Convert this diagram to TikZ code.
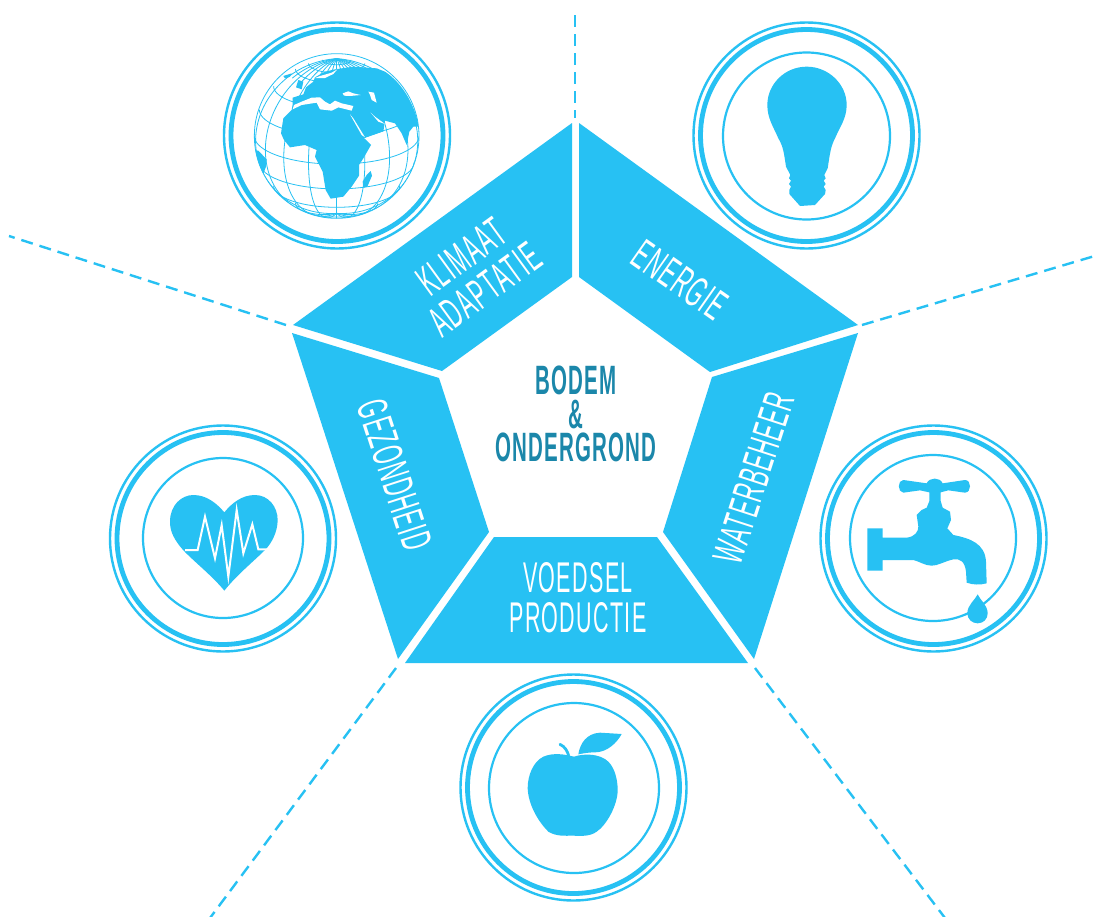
\documentclass[tikz,border=0pt]{standalone}
\usepackage{fontspec}
\setmainfont{Liberation Sans}
\newfontfamily\thinfont[FakeStretch=0.5,LetterSpace=3]{Liberation Sans}
\newfontfamily\midfont[FakeStretch=0.5,LetterSpace=3]{Liberation Sans Bold}
\definecolor{sky}{RGB}{39,193,243}
\definecolor{coreteal}{RGB}{27,135,170}
\tikzset{
  seg/.style={fill=sky,draw=none},
  seglabel/.style={text=white,align=center,font=\thinfont\fontsize{43}{40}\selectfont,inner sep=0pt},
  core/.style={text=coreteal,align=center,font=\midfont\fontsize{41}{40}\selectfont,inner sep=0pt},
  radial/.style={draw=sky,line width=2.4pt,dash pattern=on 12pt off 7pt},
  ringa/.style={draw=sky,line width=2.4pt},
  ringb/.style={draw=sky,line width=4.8pt},
  ringc/.style={draw=sky,line width=2.2pt},
  icon/.style={fill=sky,draw=none},
  gridline/.style={draw=sky,line width=0.8pt}
}
\newcommand{\rings}[2]{%
  \draw[ringa] (#1,#2) circle (113);
  \draw[ringb] (#1,#2) circle (106);
}
\begin{document}
\begin{tikzpicture}[x=1pt,y=-1pt]
\useasboundingbox (0,0) rectangle (1099,916);
\fill[white] (0,0) rectangle (1099,916);

% segments
\fill[seg] (572,123) -- (572,277) -- (442,371) -- (293,325) -- cycle;
\fill[seg] (579,123) -- (858,325) -- (710,372) -- (579,277) -- cycle;
\fill[seg] (858,333) -- (754,659) -- (663,532) -- (712,377) -- cycle;
\fill[seg] (494,537) -- (657,537) -- (748,663) -- (405,663) -- cycle;
\fill[seg] (292,333) -- (439,378) -- (489,532) -- (398,659) -- cycle;

% dashed radials
\coordinate (t1) at (575,15);    \coordinate (t2) at (575,118);
\coordinate (r1) at (1098,255);  \coordinate (r2) at (862,325);
\coordinate (br1) at (945,918);  \coordinate (br2) at (755,668);
\coordinate (bl1) at (210,918);  \coordinate (bl2) at (396,668);
\coordinate (l1) at (9,236);     \coordinate (l2) at (286,325);
\draw[radial] (t1) -- (t2);
\draw[radial] (r2) -- (r1);
\draw[radial] (br2) -- (br1);
\draw[radial] (bl2) -- (bl1);
\draw[radial] (l2) -- (l1);

% labels
\node[seglabel,rotate=36] (klimaat) at (473,273) {KLIMAAT\\ADAPTATIE};
\node[seglabel,rotate=-35] (energie) at (680,280) {ENERGIE};
\node[seglabel,rotate=72] (water) at (754,478) {WATERBEHEER};
\node[seglabel] (voedsel) at (578,598) {VOEDSEL\\PRODUCTIE};
\node[seglabel,rotate=-72] (gezond) at (395,475) {GEZONDHEID};
\node[core] (bodem) at (576,380) {BODEM};
\node[core] (amp) at (576,415) {\&};
\node[core] (onder) at (576,447) {ONDERGROND};

% rings
\rings{337}{135.5}
\rings{806.5}{135.5}
\draw[ringc] (806.5,136) circle (83.5);
\rings{933.5}{538.5}
\draw[ringc] (933,538) circle (83);
\rings{223}{538.5}
\draw[ringc] (223,538) circle (80);
\rings{573.5}{787.5}
\draw[ringc] (574,788) circle (85);

% globe
\begin{scope}[shift={(210,10)},scale=1/3]
  \begin{scope}
    \clip (380,378) circle (247);
    \foreach \lat in {-60,-40,-20,0,20,40,60,70,80}{
      \draw[gridline] plot[domain=-90:90,samples=40,variable=\l,smooth]
        ({380+247*cos(\lat)*sin(\l)},{378-247*(cos(20)*sin(\lat)-sin(20)*cos(\lat)*cos(\l))});
    }
    \foreach \lon in {-80,-60,-40,-20,0,20,40,60,80}{
      \draw[gridline] plot[domain=-90:90,samples=40,variable=\p,smooth]
        ({380+247*cos(\p)*sin(\lon)},{378-247*(cos(20)*sin(\p)-sin(20)*cos(\p)*cos(\lon))});
    }
    \foreach \lon in {-70,-50,-30,-10,10,30,50,70}{
      \draw[gridline] plot[domain=55:90,samples=10,variable=\p,smooth]
        ({380+247*cos(\p)*sin(\lon)},{378-247*(cos(20)*sin(\p)-sin(20)*cos(\p)*cos(\lon))});
    }
    % south america
    \fill[icon] (130,420) -- (145,422) -- (170,448) -- (168,470) -- (158,497) -- (130,480) -- cycle;
    % africa + eurasia
    \fill[icon] (213,370) -- (220,325) -- (245,300) -- (248,283) -- (248,263) -- (280,253)
      -- (288,232) -- (310,215) -- (315,202) -- (345,185) -- (375,178) -- (430,170) -- (500,175)
      -- (525,185) .. controls (570,215) and (610,270) .. (627,350)
      -- (610,350) -- (598,365) -- (590,405) -- (575,370) -- (555,340) -- (525,332)
      -- (520,365) -- (463,385) -- (483,405) -- (460,445) -- (447,465)
      -- (447,497) -- (425,530) -- (400,560) -- (362,566) -- (347,540) -- (338,485)
      -- (315,440) -- (320,420) -- (285,405) -- (240,412) -- (222,390) -- cycle;
    % madagascar
    \fill[icon] (482,483) -- (486,497) -- (472,530) -- (460,533) -- (458,515) -- (470,495) -- cycle;
    % britain, iceland
    \fill[icon] (265,210) -- (280,215) -- (275,238) -- (258,232) -- cycle;
    \fill[icon] (220,198) -- (245,190) -- (240,200) -- (225,205) -- cycle;
    % seas, drawn in crop coordinates
    \begin{scope}[shift={(180,120)}]
      \fill[white] (72,165) -- (95,155) -- (125,143) -- (150,142) -- (165,155) -- (180,163)
        -- (195,152) -- (215,160) -- (250,168) -- (245,182) -- (205,172) -- (185,182) -- (150,178)
        -- (140,158) -- (95,165) -- (68,178) -- cycle;
      \fill[white] (218,130) -- (235,124) -- (250,130) -- (272,135) -- (240,138) -- (222,137) -- cycle;
      \fill[white] (295,125) -- (312,128) -- (320,158) -- (305,150) -- (300,135) -- cycle;
      \fill[white] (135,84) -- (165,84) -- (190,72) -- (202,58) -- (185,68) -- (150,78) -- cycle;
      \fill[white] (240,193) -- (250,205) -- (285,262) -- (275,255) -- cycle;
      \fill[white] (302,188) -- (315,200) -- (345,222) -- (325,215) -- cycle;
      \fill[white] (283,265) -- (340,245) -- (342,250) -- (290,268) -- cycle;
    \end{scope}
  \end{scope}
  \draw[gridline] (380,378) circle (247);
\end{scope}

% lightbulb
\begin{scope}[shift={(680,10)},scale=1/3]
  \fill[icon] (380,170) .. controls (445,170) and (500,222) .. (500,285)
    .. controls (500,325) and (480,350) .. (465,385)
    .. controls (452,410) and (450,430) .. (443,475)
    -- (433,495) -- (437,505) -- (431,512) -- (437,522) -- (431,530) -- (437,540) -- (435,552)
    -- (405,585) -- (360,588) -- (328,552) -- (328,540) -- (333,530) -- (327,522) -- (333,512)
    -- (327,505) -- (331,495) -- (318,470)
    .. controls (312,430) and (310,410) .. (295,385)
    .. controls (280,350) and (262,325) .. (262,285)
    .. controls (262,222) and (315,170) .. (380,170) -- cycle;
\end{scope}

% tap
\begin{scope}[shift={(810,415)},scale=1/3]
  \fill[icon] (172,340) -- (218,340) -- (218,368) -- (290,368)
    .. controls (315,365) and (325,350) .. (325,335)
    -- (320,300) -- (335,285) -- (350,278) -- (358,258) -- (358,232) -- (330,226) -- (280,233)
    .. controls (262,232) and (262,195) .. (280,195)
    -- (350,205) .. controls (358,186) and (390,186) .. (398,205)
    -- (465,195) .. controls (485,195) and (485,232) .. (465,233)
    -- (415,226) -- (392,232) -- (392,258) -- (398,278) -- (420,290) -- (423,315) -- (412,340) -- (430,360)
    .. controls (480,370) and (525,385) .. (528,440)
    -- (530,505) .. controls (510,510) and (490,510) .. (470,503)
    -- (468,470) .. controls (465,440) and (450,430) .. (430,433)
    .. controls (400,440) and (385,452) .. (365,452)
    .. controls (345,452) and (330,440) .. (310,435)
    -- (218,435) -- (218,467) -- (172,467) -- cycle;
  \fill[icon] (503,538) .. controls (510,555) and (533,570) .. (533,595)
    .. controls (533,612) and (520,625) .. (503,625)
    .. controls (486,625) and (472,612) .. (472,595)
    .. controls (472,570) and (495,555) .. (503,538) -- cycle;
\end{scope}

% heart
\begin{scope}[shift={(100,415)},scale=1/3]
  \fill[icon] (373,527) .. controls (335,480) and (270,430) .. (245,400)
    .. controls (215,365) and (210,340) .. (210,320)
    .. controls (210,270) and (245,240) .. (280,240)
    .. controls (320,240) and (350,265) .. (373,292)
    .. controls (395,265) and (425,240) .. (465,240)
    .. controls (505,240) and (533,275) .. (533,315)
    .. controls (533,350) and (515,385) .. (495,405)
    .. controls (460,440) and (410,480) .. (373,527) -- cycle;
  \draw[white,line width=2pt,line join=miter] (255,405) -- (293,405) -- (315,305) -- (345,430) -- (365,330)
    -- (385,485) -- (410,285) -- (430,415) -- (457,328) -- (475,403) -- (503,403);
\end{scope}

% apple
\begin{scope}[shift={(450,665)},scale=1/3]
  \fill[icon] (372,275) .. controls (400,265) and (450,265) .. (475,290)
    .. controls (495,310) and (503,345) .. (503,375)
    .. controls (503,420) and (470,480) .. (440,500)
    .. controls (420,515) and (390,513) .. (370,512)
    .. controls (345,512) and (320,515) .. (295,500)
    .. controls (265,470) and (235,420) .. (233,370)
    .. controls (233,330) and (250,290) .. (280,275)
    .. controls (310,262) and (345,268) .. (372,275) -- cycle;
  \draw[sky,line width=2.8pt,line cap=round] (330,238) .. controls (345,245) and (352,258) .. (356,272);
  \fill[icon] (385,268) .. controls (390,235) and (410,205) .. (450,203)
    -- (515,207) .. controls (500,235) and (470,262) .. (435,262)
    .. controls (415,262) and (400,265) .. (385,268) -- cycle;
\end{scope}
\end{tikzpicture}
\end{document}
